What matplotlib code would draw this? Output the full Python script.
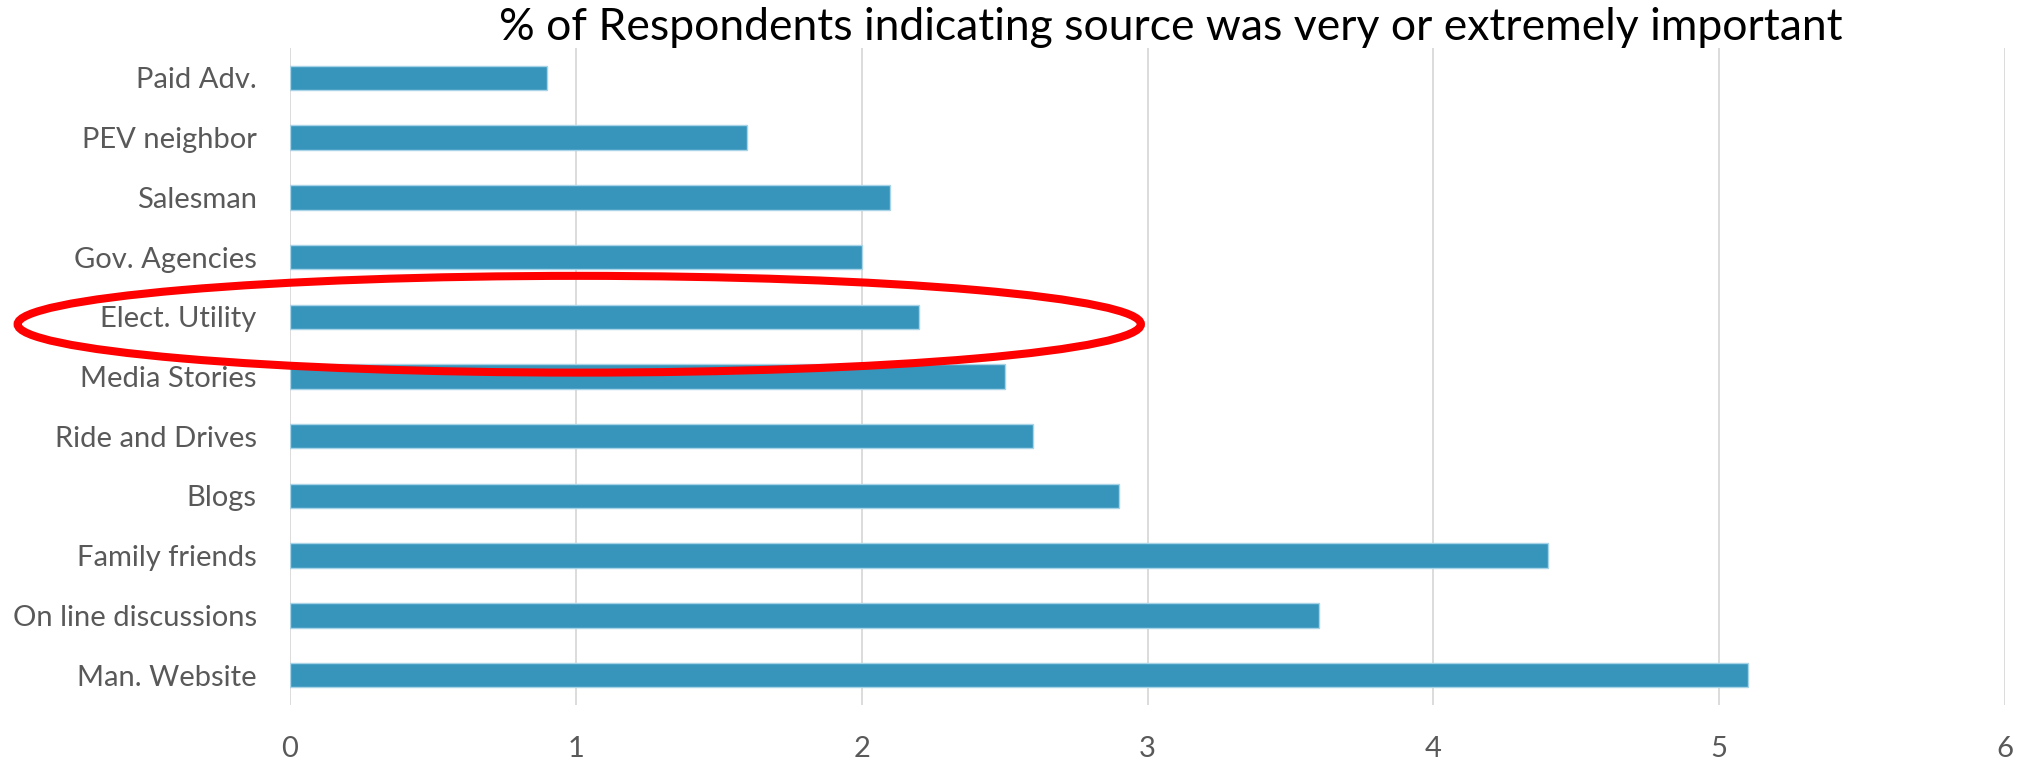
import matplotlib
matplotlib.use("Agg")
import matplotlib.pyplot as plt
from matplotlib.patches import Ellipse

# sources, top to bottom as in the slide
sources = ["Paid Adv.", "PEV neighbor", "Salesman", "Gov. Agencies", "Elect. Utility",
           "Media Stories", "Ride and Drives", "Blogs", "Family friends",
           "On line discussions", "Man. Website"]
values = [0.9, 1.6, 2.1, 2.0, 2.2, 2.5, 2.6, 2.9, 4.4, 3.6, 5.1]
xticks = [0, 1, 2, 3, 4, 5, 6]
title = "% of Respondents indicating source was very or extremely important"

# red ring around the utility bar (data coords)
ring_center = (1.012, 4.125)
ring_w, ring_h = 3.93, 1.62

plt.rcParams['font.family'] = ['Lato', 'DejaVu Sans']

fig = plt.figure(figsize=(20.18, 7.62), dpi=100)
ax = fig.add_axes([290/2018, 1-705/762, (2005-290)/2018, (705-48)/762])

ypos = list(range(len(sources)))
ax.barh(ypos, values, height=0.41, color="#3795bc", edgecolor="#a9d3e6", linewidth=1.0, zorder=3)

ax.set_xlim(0, 6)
ax.set_ylim(len(sources)-0.5, -0.5)
ax.set_xticks(xticks)
ax.set_xticklabels([str(t) for t in xticks])
ax.set_yticks(ypos)
ax.set_yticklabels(sources)
ax.grid(axis="x", color="#d9d9d9", linewidth=1.3, zorder=0)
for s in ax.spines.values():
    s.set_visible(False)
ax.tick_params(axis="both", length=0, labelsize=21, labelcolor="#595959")
ax.tick_params(axis="x", pad=22)
ax.tick_params(axis="y", pad=24)

ring = Ellipse(ring_center, ring_w, ring_h, fill=False, edgecolor="#ff0000",
               linewidth=5.8, transform=ax.transData, clip_on=False, zorder=5)
ax.add_patch(ring)

fig.text(0.58, 1-28/762, title, ha="center", va="center", fontsize=32, color="black")

fig.savefig("out.png", dpi=100)
